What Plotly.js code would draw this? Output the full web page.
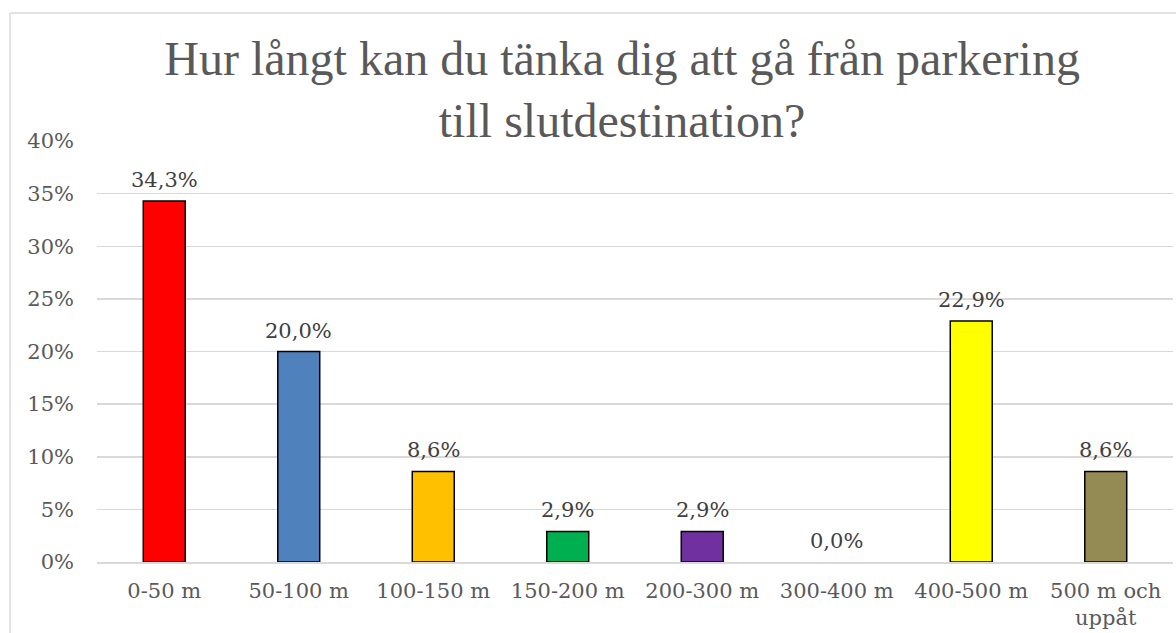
<!DOCTYPE html>
<html>
<head>
<meta charset="utf-8">
<script src="https://cdn.plot.ly/plotly-3.0.1.min.js"></script>
<style>
html,body{margin:0;padding:0;background:#fff;}
#chart{width:1176px;height:633px;}
</style>
</head>
<body>
<div id="chart"></div>
<script>
const categories = ["0-50 m", "50-100 m", "100-150 m", "150-200 m", "200-300 m", "300-400 m", "400-500 m", "500 m och<br>uppåt"];
const shares = [0.343, 0.200, 0.086, 0.029, 0.029, 0.000, 0.229, 0.086];
const barColors = ["#FF0000", "#4F81BD", "#FFC000", "#00B050", "#7030A0", "#A5A5A5", "#FFFF00", "#948A54"];
const yTickVals = [0, 0.05, 0.10, 0.15, 0.20, 0.25, 0.30, 0.35, 0.40];

const W = 1176, H = 633;
const L = 97, R = 3, T = 141, B = 71;

const serif = "DejaVu Serif, Liberation Serif, serif";

const trace = {
  type: "bar",
  x: categories,
  y: shares,
  marker: {color: barColors, line: {color: "#000000", width: shares.map(v => v > 0 ? 1.5 : 0)}},
  cliponaxis: false,
  hoverinfo: "skip"
};

const fmt = v => (v * 100).toFixed(1).replace(".", ",") + "%";
const labels = categories.map((c, i) => ({
  x: c, y: shares[i], xref: "x", yref: "y",
  text: fmt(shares[i]), showarrow: false,
  xanchor: "center", yanchor: "bottom", yshift: 7,
  font: {family: serif, size: 21, color: "#404040"}
}));

const pw = W - L - R, ph = H - T - B;
const layout = {
  width: W, height: H,
  margin: {l: L, r: R, t: T, b: B, pad: 0},
  paper_bgcolor: "#ffffff",
  plot_bgcolor: "#ffffff",
  separators: ",.",
  bargap: 0.688,
  showlegend: false,
  title: {
    text: "Hur långt kan du tänka dig att gå från parkering<br>till slutdestination?",
    font: {family: "Liberation Serif, Times New Roman, serif", size: 48, color: "#595959"},
    x: 0.529, xanchor: "center",
    y: 1 - 75 / H, yanchor: "middle"
  },
  xaxis: {
    type: "category",
    tickfont: {family: serif, size: 21, color: "#595959"},
    showgrid: false,
    showline: true, linecolor: "#D9D9D9", linewidth: 1.5,
    ticks: "", ticklabelstandoff: 9
  },
  yaxis: {
    range: [0, 0.40],
    tickvals: yTickVals,
    tickformat: ".0%",
    tickfont: {family: serif, size: 21, color: "#595959"},
    showgrid: true, gridcolor: "#D9D9D9", gridwidth: 1.5,
    zeroline: false, showline: false,
    ticks: "", ticklabelstandoff: 22
  },
  annotations: labels,
  shapes: [
    {type: "line", xref: "paper", yref: "paper",
     x0: (10 - L) / pw, x1: (10 - L) / pw, y0: (H - 13 - B) / ph, y1: -B / ph - 0.01,
     line: {color: "#D9D9D9", width: 1.5}},
    {type: "line", xref: "paper", yref: "paper",
     x0: (10 - L) / pw, x1: (W - L + 5) / pw, y0: (H - 13 - B) / ph, y1: (H - 13 - B) / ph,
     line: {color: "#D9D9D9", width: 1.5}}
  ]
};

Plotly.newPlot("chart", [trace], layout, {displayModeBar: false, staticPlot: true});
</script>
</body>
</html>
